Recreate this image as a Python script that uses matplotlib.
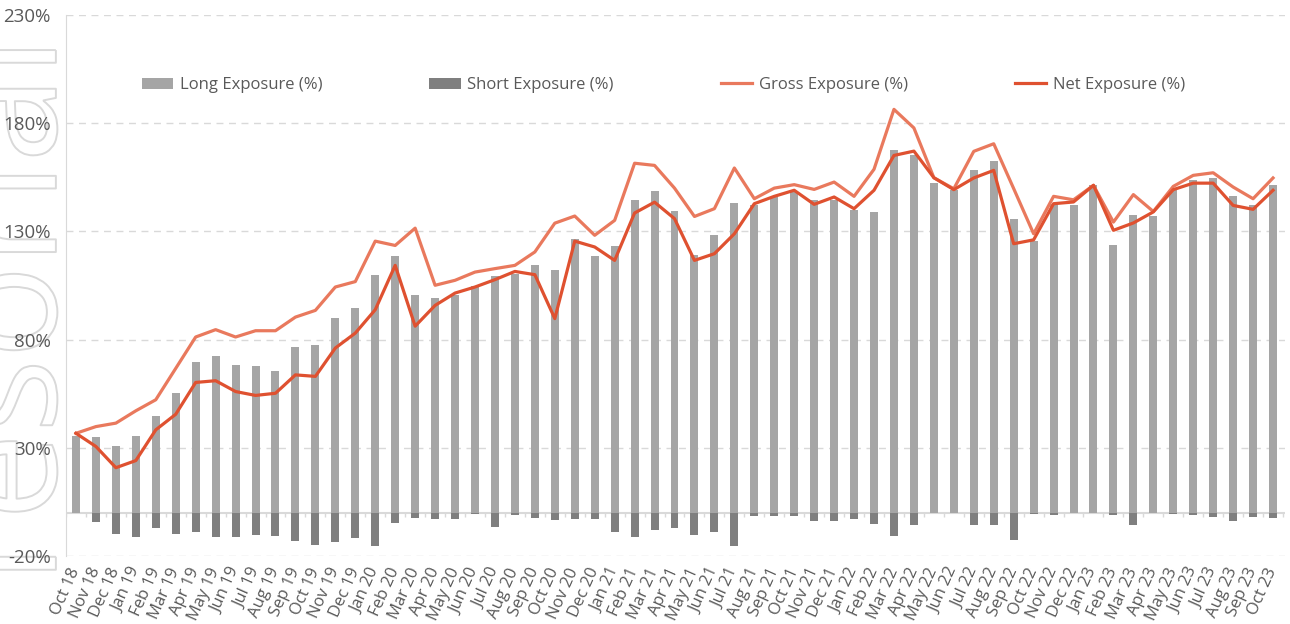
import matplotlib
matplotlib.use('Agg')
import matplotlib.pyplot as plt
import matplotlib.patheffects as pe
import numpy as np

plt.rcParams['font.family'] = ['Open Sans', 'DejaVu Sans']

# Monthly exposure data (%), Oct 18 .. Oct 23
months = ['Oct 18', 'Nov 18', 'Dec 18', 'Jan 19', 'Feb 19', 'Mar 19', 'Apr 19', 'May 19',
          'Jun 19', 'Jul 19', 'Aug 19', 'Sep 19', 'Oct 19', 'Nov 19', 'Dec 19', 'Jan 20',
          'Feb 20', 'Mar 20', 'Apr 20', 'May 20', 'Jun 20', 'Jul 20', 'Aug 20', 'Sep 20',
          'Oct 20', 'Nov 20', 'Dec 20', 'Jan 21', 'Feb 21', 'Mar 21', 'Apr 21', 'May 21',
          'Jun 21', 'Jul 21', 'Aug 21', 'Sep 21', 'Oct 21', 'Nov 21', 'Dec 21', 'Jan 22',
          'Feb 22', 'Mar 22', 'Apr 22', 'May 22', 'Jun 22', 'Jul 22', 'Aug 22', 'Sep 22',
          'Oct 22', 'Nov 22', 'Dec 22', 'Jan 23', 'Feb 23', 'Mar 23', 'Apr 23', 'May 23',
          'Jun 23', 'Jul 23', 'Aug 23', 'Sep 23', 'Oct 23']

long_exp = [35.5, 35.0, 30.7, 35.3, 44.6, 55.4, 69.8, 72.2, 68.4, 67.9, 65.6, 76.7, 77.3, 89.8,
            94.6, 109.7, 118.6, 100.8, 99.1, 100.8, 104.6, 109.2, 110.2, 114.3, 112.3, 126.6,
            118.5, 123.1, 144.3, 148.9, 139.4, 119.2, 128.2, 143.3, 142.0, 145.9, 148.2, 144.6,
            144.6, 140.0, 138.9, 167.8, 165.4, 152.3, 149.3, 158.2, 162.4, 135.9, 125.4, 142.5,
            142.3, 151.3, 123.5, 137.7, 136.9, 149.0, 153.9, 154.7, 146.2, 142.3, 151.6]

short_exp = [0.0, -4.5, -10.0, -11.1, -7.1, -10.0, -8.8, -11.3, -11.1, -10.5, -10.8, -13.0, -14.7,
             -13.4, -11.6, -15.2, -4.7, -2.4, -2.9, -2.7, -0.8, -6.5, -1.1, -2.3, -3.4, -3.1,
             -2.8, -9.0, -11.2, -8.0, -7.0, -10.1, -9.1, -15.3, -1.3, -1.7, -1.3, -3.6, -3.6,
             -3.1, -5.1, -10.7, -5.5, 0.0, 0.0, -5.9, -5.5, -12.6, -0.8, -1.2, 0.0, 0.0, -1.2,
             -5.9, 0.0, -0.8, -1.1, -2.0, -3.9, -2.0, -2.6]

gross_exp = [36.7, 39.8, 41.4, 47.1, 52.2, 66.7, 81.2, 84.6, 81.2, 84.1, 84.1, 90.4, 93.5, 104.3,
             106.8, 125.5, 123.5, 131.5, 105.1, 107.4, 111.2, 112.8, 114.3, 120.5, 133.8, 137.1,
             128.2, 135.1, 161.5, 160.5, 150.0, 136.9, 140.5, 159.3, 145.1, 150.0, 151.6, 149.4,
             152.8, 146.2, 158.7, 186.4, 177.8, 154.8, 149.7, 167.0, 170.5, 149.8, 128.9, 146.2,
             144.6, 151.3, 134.3, 147.0, 139.2, 150.8, 155.9, 157.1, 150.5, 145.1, 154.7]

net_exp = [36.7, 30.6, 20.8, 24.1, 38.3, 45.5, 60.2, 61.0, 56.0, 54.2, 55.2, 63.7, 63.0, 76.1,
           83.0, 93.8, 114.3, 86.2, 95.8, 101.5, 104.3, 107.7, 111.5, 110.0, 89.7, 125.5, 122.8,
           116.6, 138.5, 143.5, 135.9, 116.6, 119.7, 128.9, 142.8, 146.2, 149.0, 142.5, 145.9,
           140.5, 149.0, 165.1, 167.1, 154.8, 149.3, 154.7, 158.2, 124.3, 126.1, 142.8, 143.6,
           151.3, 130.5, 133.9, 139.0, 149.3, 152.3, 152.3, 142.0, 140.2, 149.0]

x = np.arange(len(months))
txt = '#595959'
grid_c = '#D9D9D9'

fig = plt.figure(figsize=(12.9, 6.24), dpi=100)
ax = fig.add_axes([66 / 1290, 1 - 556 / 624, (1285 - 66) / 1290, (556 - 15) / 624])

# faint outlined watermark on the left, kept behind everything
fig.text(0.072, 0.94, 'Tesorial', rotation=90, ha='right', va='top', fontsize=112,
         color='none', zorder=-5,
         path_effects=[pe.Stroke(linewidth=1.4, foreground='#D9D9D9')])

ax.set_axisbelow(True)
ax.yaxis.grid(True, linestyle=(0, (5, 4)), color=grid_c, lw=1)
ax.axhline(0, color=grid_c, lw=1.5, zorder=1)
ax.vlines(np.arange(-0.5, len(months), 1), -2, 0, colors=grid_c, lw=1, zorder=1)

b1 = ax.bar(x, long_exp, width=0.4, color='#A5A5A5', label='Long Exposure (%)', zorder=2)
b2 = ax.bar(x, short_exp, width=0.4, color='#7F7F7F', label='Short Exposure (%)', zorder=2)
l1, = ax.plot(x, gross_exp, color='#E9795D', lw=2.3, label='Gross Exposure (%)', zorder=3)
l2, = ax.plot(x, net_exp, color='#DF5130', lw=2.3, label='Net Exposure (%)', zorder=4)

ax.set_xlim(-0.5, len(months) - 0.4)
ax.set_ylim(-20, 230)
yt = np.arange(-20, 231, 50)
ax.set_yticks(yt)
ax.set_yticklabels([f'{v}%' for v in yt], color=txt, fontsize=13.5)
ax.set_xticks(x)
ax.set_xticklabels(months, rotation=66, rotation_mode='anchor', ha='right', va='center',
                   color=txt, fontsize=12)
ax.tick_params(axis='y', length=0, pad=11)
ax.tick_params(axis='x', length=0, pad=9)

for s in ['top', 'right', 'bottom']:
    ax.spines[s].set_visible(False)
ax.spines['left'].set_color(grid_c)
ax.patch.set_alpha(0)

ax.legend(handles=[b1, b2, l1, l2], loc='center', bbox_to_anchor=(0.49, 0.870), ncol=4,
          frameon=False, fontsize=12, labelcolor=txt, columnspacing=6.4, handlelength=1.9,
          handletextpad=0.4, handleheight=0.7)

plt.savefig('out.png', dpi=100)
